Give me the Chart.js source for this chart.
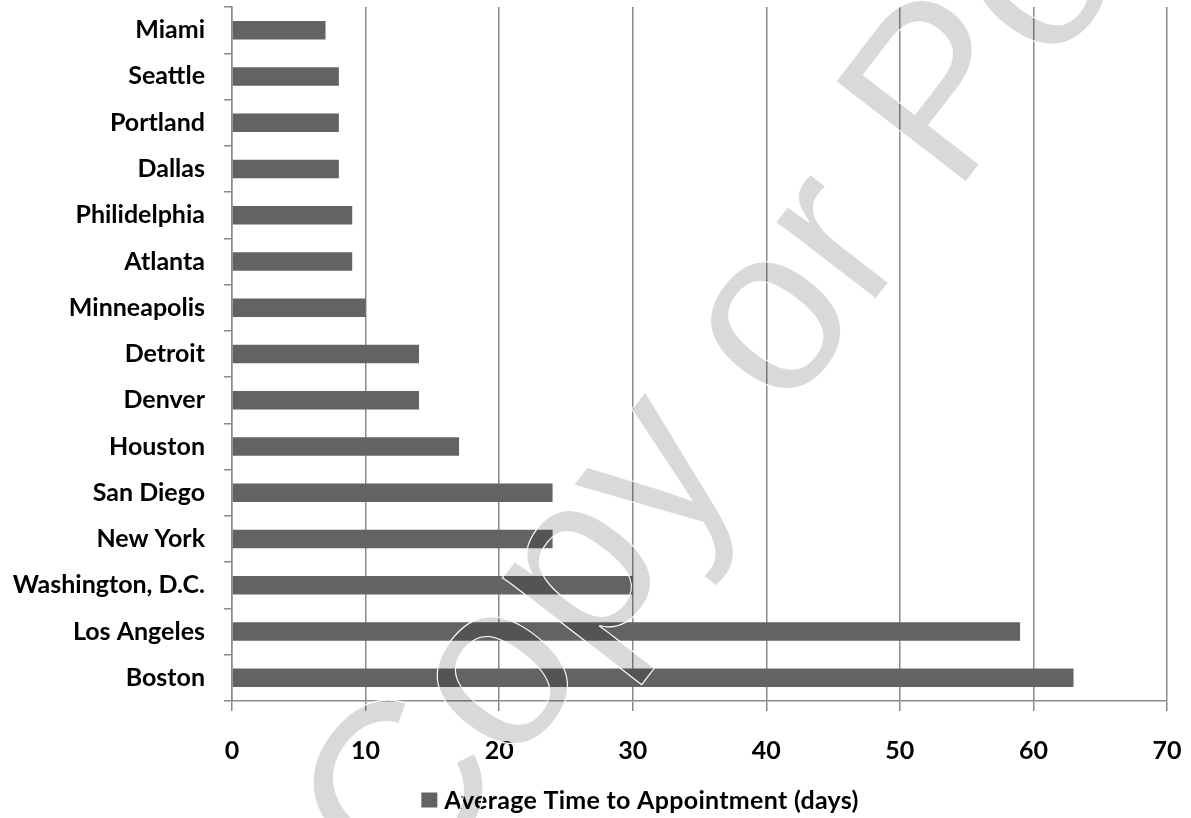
<!DOCTYPE html>
<html>
<head>
<meta charset="utf-8">
<script src="https://cdn.jsdelivr.net/npm/chart.js@4.4.1/dist/chart.umd.min.js"></script>
<style>
  html, body { margin: 0; padding: 0; background: #ffffff; }
  #wrap { width: 1191px; height: 818px; }
  canvas { display: block; }
</style>
</head>
<body>
<div id="wrap"><canvas id="chart" width="1191" height="818"></canvas></div>
<script>
// Cities, top to bottom
const cities = ['Miami', 'Seattle', 'Portland', 'Dallas', 'Philidelphia', 'Atlanta', 'Minneapolis',
  'Detroit', 'Denver', 'Houston', 'San Diego', 'New York', 'Washington, D.C.', 'Los Angeles', 'Boston'];

// Average wait in days for each city
const avgDays = [7, 8, 8, 8, 9, 9, 10, 14, 14, 17, 24, 24, 30, 59, 63];

const seriesLabel = 'Average Time to Appointment (days)';

// Value axis ticks
const xTicks = [0, 10, 20, 30, 40, 50, 60, 70];

const watermarkText = 'Copy or Post';

const LABEL_FONT = { family: 'Lato', weight: 'bold', size: 25 };
const GRID = '#8a8a8a';
const BAR = '#636363';

const whiteBg = {
  id: 'whiteBg',
  beforeDraw(chart) {
    const ctx = chart.ctx;
    ctx.save();
    ctx.fillStyle = '#ffffff';
    ctx.fillRect(0, 0, chart.width, chart.height);
    ctx.restore();
  }
};

// Legend centred under the plot, drawn from the dataset itself
const bottomLegend = {
  id: 'bottomLegend',
  afterDraw(chart) {
    const ctx = chart.ctx;
    const ds = chart.data.datasets[0];
    ctx.save();
    ctx.font = `${LABEL_FONT.weight} ${LABEL_FONT.size}px ${LABEL_FONT.family}`;
    if ('letterSpacing' in ctx) ctx.letterSpacing = '0.3px';
    const tw = ctx.measureText(ds.label).width;
    const box = 16, gap = 7;
    const total = box + gap + tw;
    const x = 640 - total / 2;
    const y = 800;
    ctx.fillStyle = ds.backgroundColor;
    ctx.fillRect(x, y - 7.5, box, 15);
    ctx.fillStyle = '#000000';
    ctx.textBaseline = 'middle';
    ctx.textAlign = 'left';
    ctx.fillText(ds.label, x + box + gap, y + 1);
    ctx.restore();
  }
};

// Diagonal "Copy or Post" stamp laid over the whole chart
const stamp = {
  id: 'stamp',
  afterDraw(chart) {
    const ctx = chart.ctx;
    ctx.save();
    ctx.setTransform(1.445, -1.878, 1.89, 1.46, 408, 907);
    ctx.font = '100px "Liberation Sans"';
    ctx.textBaseline = 'alphabetic';
    ctx.textAlign = 'left';
    ctx.globalCompositeOperation = 'multiply';
    ctx.fillStyle = '#d9d9d9';
    ctx.fillText(watermarkText, 0, 0);
    ctx.globalCompositeOperation = 'source-over';
    ctx.strokeStyle = '#ffffff';
    ctx.lineWidth = 0.45;
    ctx.strokeText(watermarkText, 0, 0);
    ctx.restore();
  }
};

new Chart(document.getElementById('chart'), {
  type: 'bar',
  data: {
    labels: cities,
    datasets: [{
      label: seriesLabel,
      data: avgDays,
      backgroundColor: BAR,
      borderWidth: 0,
      barPercentage: 0.4,
      categoryPercentage: 1.0
    }]
  },
  options: {
    indexAxis: 'y',
    responsive: false,
    animation: false,
    devicePixelRatio: 1,
    layout: { padding: { top: 7, right: 24, left: 0, bottom: 0 } },
    plugins: {
      legend: { display: false },
      tooltip: { enabled: false }
    },
    scales: {
      x: {
        min: xTicks[0],
        max: xTicks[xTicks.length - 1],
        ticks: {
          stepSize: xTicks[1] - xTicks[0],
          color: '#000000',
          font: LABEL_FONT,
          padding: 25
        },
        grid: { color: GRID, lineWidth: 1.5, tickLength: 10, drawTicks: true },
        border: { color: GRID, width: 1.5 },
        afterFit(scale) {
          scale.height = 117;
          scale.paddingLeft = 0; scale.paddingRight = 0;
          scale.paddingTop = 0; scale.paddingBottom = 0;
        }
      },
      y: {
        ticks: { color: '#000000', font: LABEL_FONT, padding: 19 },
        grid: { drawOnChartArea: false, drawTicks: true, tickLength: 8, color: GRID, lineWidth: 1.5, offset: true },
        border: { color: GRID, width: 1.5 },
        afterFit(scale) {
          scale.width = 232;
          scale.paddingLeft = 0; scale.paddingRight = 0;
          scale.paddingTop = 0; scale.paddingBottom = 0;
        }
      }
    }
  },
  plugins: [whiteBg, bottomLegend, stamp]
});
</script>
</body>
</html>
